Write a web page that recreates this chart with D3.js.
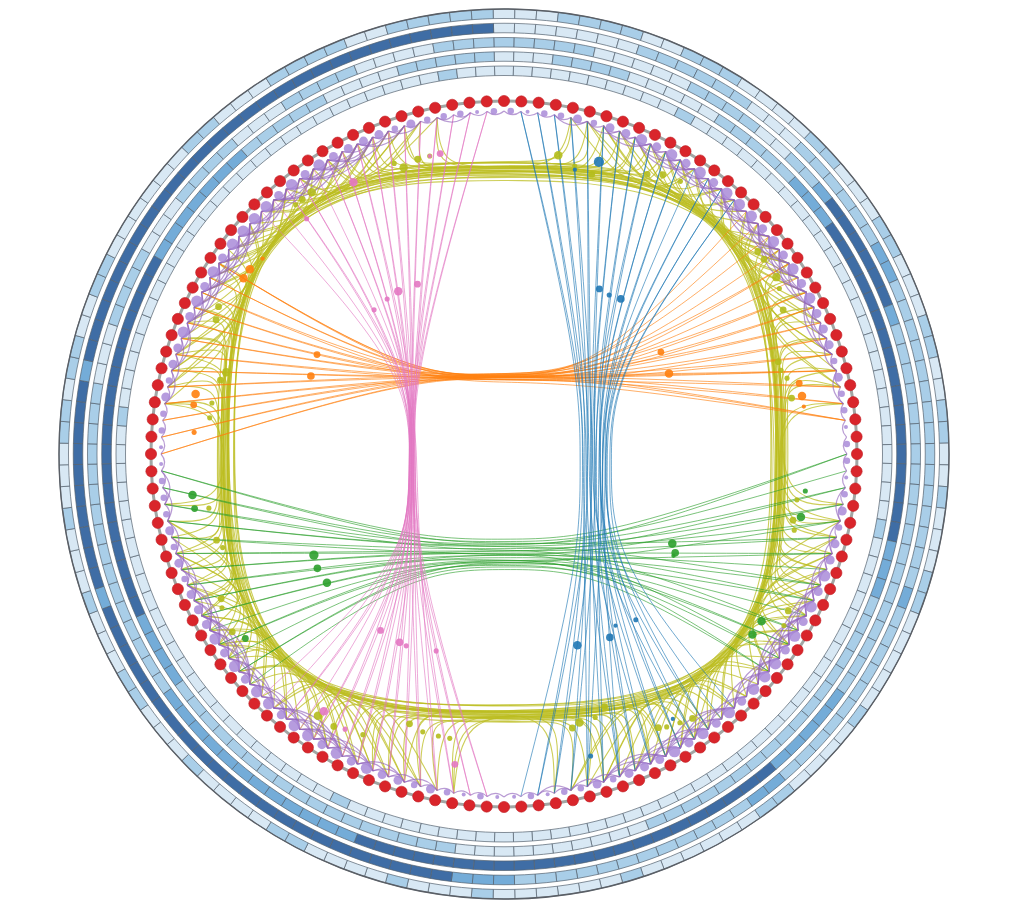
<!DOCTYPE html>
<html>
<head>
<meta charset="utf-8">
<script src="https://cdn.jsdelivr.net/npm/d3@7"></script>
<style>
  body { margin: 0; background: #fff; }
  svg { display: block; }
</style>
</head>
<body>
<svg id="chart"></svg>
<script>
// ---- data ----
var nodeCount = 128;

// heat rings, outermost first, one level (0-3) per node, 8 octants of 16 cells
var ring0Levels = ["0001111001110000","1100011000110011","0010001100000100","0011000000100000",
                   "0100010000110000","1000110001000100","0110110011000000","1100011110011111"];
var ring1Levels = ["0000000111111000","1111112211111111","1111111211111111","1122111111111111",
                   "2223333333333333","3333333332333333","3333233333333333","3333333333333333"];
var ring2Levels = ["1111100000111100","1123333332111111","1111111111111222","2233333333333333",
                   "3333333322222222","2222111111111111","1111000111100011","1100011110000111"];
var ring3Levels = ["0001111000001111","1222333333333333","3333322211111111","1111111110000000",
                   "0001111111111111","1111222233333333","3333333333322222","2211111000011111"];
var ring4Levels = ["0000000000100000","0000000000000000","0000100000000000","0000000000000000",
                   "0000000001000000","0000000000000000","0010000000000000","0000000000000100"];

// purple dot size and number of forward neighbour links per node
var purpleSize = ["1011212232323233","3232323222121101","1012122323232333","2323232221211010",
                  "0101212232323323","3232322212121110","0112122323232333","3232322221211101"];
var purpleSpan = ["1112123243434453","4544324322121111","1121223344543442","3534434322212111",
                  "1111223244543434","3543442322212211","1112232344544443","4535442322112111"];

// long bundles: [source node, target node]
var blueLinks = [[1,63],[1,59],[2,62],[2,57],[3,61],[3,55],[4,60],[4,52],[5,62],[5,58],[6,59],[6,54],
                 [7,57],[7,61],[8,56],[8,51],[9,60],[9,53],[10,55],[10,58],[11,54],[11,50],[12,56],
                 [13,52],[13,59],[14,53],[14,57],[15,51],[15,49]];
var pinkLinks = [[127,65],[127,69],[126,66],[126,71],[125,67],[125,73],[124,68],[124,65],[123,70],
                 [123,75],[122,66],[122,72],[121,74],[121,69],[120,71],[120,77],[119,67],[119,76],
                 [118,73],[118,78],[117,70],[117,75],[116,72],[115,79],[115,74],[114,76],[114,68],
                 [113,78],[112,80]];
var orangeLinks = [[96,30],[96,27],[97,29],[97,24],[98,28],[98,22],[99,27],[99,30],[100,26],[100,20],
                   [101,27],[101,23],[102,25],[102,29],[103,24],[103,18],[104,28],[104,21],[105,22],
                   [105,26],[106,19],[106,30],[107,23],[107,17],[108,20],[108,25],[108,16]];
var greenLinks = [[95,32],[95,37],[94,33],[94,40],[93,34],[93,43],[92,35],[92,32],[91,36],[91,45],
                  [90,37],[90,41],[89,38],[89,34],[88,39],[88,46],[87,40],[87,35],[86,42],[86,44],
                  [85,43],[84,38],[84,45],[83,41],[82,44],[82,36],[81,46]];

// short bundles along the inner track: sides, then corners
var yellowTop = [[107,6],[108,12],[109,4],[110,9],[110,17],[111,5],[112,14],[113,7],[113,20],[114,10],
                 [115,4],[115,15],[116,8],[117,12],[117,19],[118,6],[119,11],[119,21],[120,5],[120,16],
                 [121,9],[122,13],[122,18],[123,7],[124,10],[124,15],[109,20],[112,8],[118,14],[121,19]];
var yellowRight = [[12,40],[13,36],[14,45],[15,38],[16,50],[17,35],[17,43],[18,47],[19,37],[20,41],
                   [20,52],[21,36],[22,44],[23,39],[23,49],[24,35],[25,42],[25,46],[26,38],[27,51],
                   [27,40],[28,36],[29,44],[29,48],[14,37],[16,42],[19,46],[22,39],[26,50],[28,41]];
var yellowBottom = [[44,70],[45,78],[46,67],[47,74],[48,82],[49,68],[49,76],[50,71],[51,80],[52,69],
                    [52,84],[53,73],[54,77],[55,67],[55,72],[56,79],[57,70],[57,83],[58,75],[59,68],
                    [59,81],[60,72],[61,76],[61,69],[46,79],[48,73],[51,67],[54,82],[56,71],[58,84]];
var yellowLeft = [[76,102],[77,110],[78,99],[79,106],[80,114],[81,101],[81,108],[82,104],[83,112],
                  [84,100],[84,116],[85,105],[86,109],[87,99],[87,103],[88,111],[89,101],[89,115],
                  [90,107],[91,100],[91,113],[92,104],[93,108],[93,102],[78,111],[80,105],[83,99],
                  [86,114],[88,103],[90,116]];
var yellowTL = [[116,104],[117,101],[118,106],[119,100],[120,103],[121,108],[122,102],[123,105],
                [124,100],[117,107],[119,104],[121,101],[123,108],[118,102],[120,106],[122,99]];
var yellowTR = [[4,24],[5,21],[6,26],[7,20],[8,23],[9,28],[10,22],[11,25],[12,20],[5,27],[7,24],
                [9,21],[11,28],[6,22],[8,26],[10,19]];
var yellowBR = [[36,56],[37,53],[38,58],[39,52],[40,55],[41,60],[42,54],[43,57],[44,52],[37,59],
                [39,56],[41,53],[43,60],[38,54],[40,58],[42,51]];
var yellowBL = [[68,88],[69,85],[70,90],[71,84],[72,87],[73,92],[74,86],[75,89],[76,84],[69,91],
                [71,88],[73,85],[75,92],[70,86],[72,90],[74,83]];

// inner dots: [angle in degrees, radius in % of node ring, size]
var blueDots = [[18,87,6],[14,83,2.5],[30,54,4],[33.5,54,3],[37,55,4.5],[159,58,5],[150,60,4.5],
                [147,58,2.5],[141.5,60,3],[164,89,3],[147.5,89,2.5]];
var pinkDots = [[331,88,5],[320,87,3],[327,55,5],[333,54,4],[323,55,3],[318,55,3],[348,87,4],
                [346,87,2.5],[215,61,4],[209,61,4.5],[207,61,3],[199,59,3],[215,89,5],[210,90,3],[189,89,4]];
var orangeDots = [[306,89,5],[304,89,5],[309,88,2.5],[298,60,4],[292,59,4.5],[281,89,5],[279,89,4],
                  [274,88,3],[57,53,4],[64,52,5],[76.5,86,4],[79,86,5],[81,86,2.5]];
var greenDots = [[262.5,89,5],[260,89,4],[242,61,5.5],[238.5,62,4.5],[234,62,5],[234.5,90,4],
                 [118,54,5],[120,56,4.5],[121,56,2.5],[123,87,5],[126,87,5],[102,86,5],[97,86,3]];
var yellowDots = [[340.7,86,5],[343.7,87,4],[346,87,3],[10.3,86,5],[13.8,84,3],[17.4,83,4],[27.1,89,4],
                  [29.6,91,4],[32.9,92,3],[323.7,92,5],[321.6,92,4],[320.1,92,3],[339.3,88,3],
                  [51.4,92,4],[53.2,92,4],[57,92,5],[59,91,3],[62.7,89,4],[71.4,82,4],[73.2,82,3],
                  [75,83,3],[79,83,4],[286.4,82,5],[284.6,83,4],[279.9,84,3],[277,84,3],[297.3,91,4],
                  [295,90,4],[259.6,85,3],[253.3,85,4],[251.6,84,3],[242.9,90,4],[241.4,91,3],
                  [236.8,92,4],[215.4,91,5],[212,91,4],[206.7,89,3],[199.3,81,4],[196.3,82,3],
                  [193.1,82,3],[190.8,82,3],[166,80,4],[164.3,79,5],[160.9,79,3],[158.3,77,4],
                  [150.6,89,4],[149.2,90,3],[146.8,91,3],[144.5,92,4],[118.9,92,4],[121.5,93,3],
                  [102.9,84,4],[98.9,84,3],[104.7,85,3]];

// ---- layout ----
var width = 1019, height = 917;
var cx = 504, cy = 454;
var nodeR = 353, edgeR = 343;
var ringWidth = 9.5;
var trackR = {top: 285, right: 273, bottom: 256, left: 277};

var angle = d3.scaleLinear().domain([0, nodeCount]).range([0, 2 * Math.PI]);
var deg = d3.scaleLinear().domain([0, 360]).range([0, 2 * Math.PI]);
var radius = d3.scaleLinear().domain([0, 100]).range([0, nodeR]);
var ringOuter = d3.scaleLinear().domain([0, 4]).range([445, 388]);
var levelColor = d3.scaleOrdinal().domain([0, 1, 2, 3])
  .range(["#d8e8f4", "#a9cee8", "#74acd8", "#3f6da5"]);

var svg = d3.select("#chart")
  .attr("width", width)
  .attr("height", height);

var g = svg.append("g")
  .attr("transform", "translate(" + cx + "," + cy + ")");

function nodePt(i, r) { return d3.pointRadial(angle(i), r); }

//heat rings
var arc = d3.arc();
[ring0Levels, ring1Levels, ring2Levels, ring3Levels, ring4Levels].forEach(function(levels, ri) {
  var cells = levels.join("").split("").map(function(v, i) { return {i: i, v: +v}; });
  g.append("g").selectAll("path")
    .data(cells)
    .enter().append("path")
    .attr("d", function(d) {
      return arc({innerRadius: ringOuter(ri) - ringWidth, outerRadius: ringOuter(ri),
                  startAngle: angle(d.i - 0.5), endAngle: angle(d.i + 0.5)});
    })
    .attr("fill", function(d) { return levelColor(d.v); })
    .attr("stroke", "#55626e")
    .attr("stroke-width", 0.7);
});
g.append("circle")
  .attr("r", ringOuter(0))
  .attr("fill", "none")
  .attr("stroke", "#5a5f66")
  .attr("stroke-width", 1.4);

//node ring line
g.append("circle")
  .attr("r", nodeR)
  .attr("fill", "none")
  .attr("stroke", "#a2a6a4")
  .attr("stroke-width", 3);

var bundleLine = d3.line().curve(d3.curveBundle.beta(0.92));
var trackLine = d3.line().curve(d3.curveBundle.beta(0.88));
var edges = g.append("g").attr("fill", "none");

//yellow bundles follow a rounded square track
function trackPoint(t, off) {
  var s = Math.sin(t), c = Math.cos(t);
  var a = (s >= 0 ? trackR.right : trackR.left) + off;
  var b = (c >= 0 ? trackR.top : trackR.bottom) + off;
  return [a * Math.sign(s) * Math.pow(Math.abs(s), 2 / 3),
          -b * Math.sign(c) * Math.pow(Math.abs(c), 2 / 3)];
}
function trackPath(link, k) {
  var ta = angle(link[0]), tb = angle(link[1]);
  var d = tb - ta;
  while (d > Math.PI) d -= 2 * Math.PI;
  while (d < -Math.PI) d += 2 * Math.PI;
  var off = ((k % 11) - 5) * 0.8;
  var t0 = ta + d * 0.08, span = d * 0.84;
  var steps = Math.max(2, Math.ceil(Math.abs(span) / 0.12));
  var pts = [nodePt(link[0], edgeR)];
  for (var s = 0; s <= steps; s++) pts.push(trackPoint(t0 + span * s / steps, off));
  pts.push(nodePt(link[1], edgeR));
  return trackLine(pts);
}
[yellowTop, yellowRight, yellowBottom, yellowLeft, yellowTL, yellowTR, yellowBR, yellowBL]
  .forEach(function(links) {
    edges.append("g").selectAll("path")
      .data(links)
      .enter().append("path")
      .attr("d", trackPath)
      .attr("stroke", "#bcbd22")
      .attr("stroke-opacity", 0.75)
      .attr("stroke-width", 1.1);
  });

//long bundles pinch through the middle
function pinchPath(dir, pos) {
  return function(link, k, all) {
    var off = (k - (all.length - 1) / 2) * 0.55;
    var mids = dir === "h"
      ? [[-92, pos + off], [0, pos + off], [92, pos + off]]
      : [[pos + off, -80], [pos + off, 12], [pos + off, 105]];
    return bundleLine([nodePt(link[0], edgeR)].concat(mids, [nodePt(link[1], edgeR)]));
  };
}
var bundles = [
  {links: orangeLinks, color: "#ff7f0e", dir: "h", pos: -74},
  {links: greenLinks, color: "#2ca02c", dir: "h", pos: 99},
  {links: pinkLinks, color: "#e377c2", dir: "v", pos: -89},
  {links: blueLinks, color: "#1f77b4", dir: "v", pos: 89}
];
bundles.forEach(function(b) {
  edges.append("g").selectAll("path")
    .data(b.links)
    .enter().append("path")
    .attr("d", pinchPath(b.dir, b.pos))
    .attr("stroke", b.color)
    .attr("stroke-opacity", 0.7)
    .attr("stroke-width", 0.9);
});

//purple neighbour links
var spans = purpleSpan.join("").split("").map(Number);
var purpleLinks = [];
spans.forEach(function(n, i) {
  for (var k = 1; k <= n; k++) purpleLinks.push({i: i, k: k});
});
edges.append("g").selectAll("path")
  .data(purpleLinks)
  .enter().append("path")
  .attr("d", function(d) {
    var p = nodePt(d.i, edgeR), q = nodePt(d.i + d.k, edgeR),
        c = nodePt(d.i + d.k / 2, edgeR - 7 * d.k);
    return "M" + p + "Q" + c + " " + q;
  })
  .attr("stroke", "#9467bd")
  .attr("stroke-opacity", 0.65)
  .attr("stroke-width", 1.2);

//inner dots
var dotGroups = [
  {dots: yellowDots, color: "#b4bc1c"},
  {dots: orangeDots, color: "#ff7f0e"},
  {dots: greenDots, color: "#2ca02c"},
  {dots: pinkDots, color: "#e377c2"},
  {dots: blueDots, color: "#1f77b4"}
];
dotGroups.forEach(function(grp) {
  g.append("g").selectAll("circle")
    .data(grp.dots)
    .enter().append("circle")
    .attr("cx", function(d) { return d3.pointRadial(deg(d[0]), radius(d[1]))[0]; })
    .attr("cy", function(d) { return d3.pointRadial(deg(d[0]), radius(d[1]))[1]; })
    .attr("r", function(d) { return d[2] * 0.85; })
    .attr("fill", grp.color)
    .attr("fill-opacity", 0.9);
});

//purple dots
var sizes = purpleSize.join("").split("").map(Number);
g.append("g").selectAll("circle")
  .data(sizes)
  .enter().append("circle")
  .attr("cx", function(d, i) { return nodePt(i + 0.4, edgeR)[0]; })
  .attr("cy", function(d, i) { return nodePt(i + 0.4, edgeR)[1]; })
  .attr("r", function(d) { return 2 + d * 1.25; })
  .attr("fill", "#a98bd8")
  .attr("fill-opacity", 0.85);

//red nodes
g.append("g").selectAll("circle")
  .data(d3.range(nodeCount))
  .enter().append("circle")
  .attr("cx", function(i) { return nodePt(i, nodeR)[0]; })
  .attr("cy", function(i) { return nodePt(i, nodeR)[1]; })
  .attr("r", 5.6)
  .attr("fill", "#d9252b")
  .attr("stroke", "#c01c22")
  .attr("stroke-width", 0.6);
</script>
</body>
</html>
